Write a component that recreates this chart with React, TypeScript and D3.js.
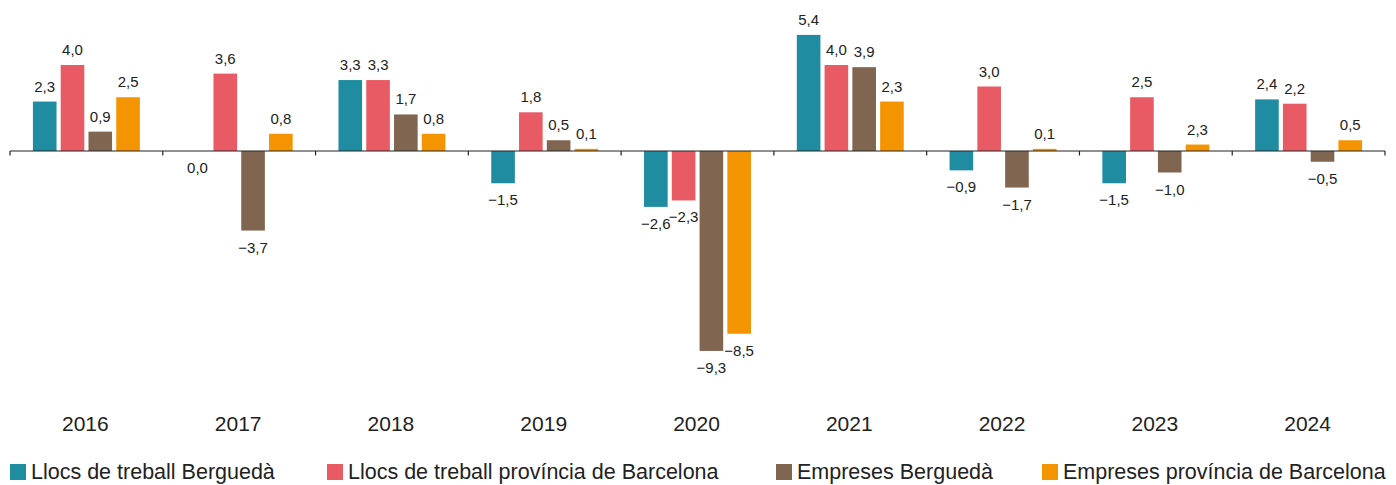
import React from "react";
import * as d3 from "d3";

const years = ["2016", "2017", "2018", "2019", "2020", "2021", "2022", "2023", "2024"];
const seriesNames = [
  "Llocs de treball Berguedà",
  "Llocs de treball província de Barcelona",
  "Empreses Berguedà",
  "Empreses província de Barcelona",
];
const llocsBergueda = [2.3, 0.0, 3.3, -1.5, -2.6, 5.4, -0.9, -1.5, 2.4];
const llocsBarcelona = [4.0, 3.6, 3.3, 1.8, -2.3, 4.0, 3.0, 2.5, 2.2];
const empresesBergueda = [0.9, -3.7, 1.7, 0.5, -9.3, 3.9, -1.7, -1.0, -0.5];
const empresesBarcelona = [2.5, 0.8, 0.8, 0.1, -8.5, 2.3, 0.1, 0.3, 0.5];
// label text printed in the reference where it differs from the bar
const labelOverrides: Record<string, string> = { "3-2023": "2,3" };
const colors = ["#1f8ca1", "#e95b64", "#806650", "#f39400"];
const legendX = [10, 327, 776, 1042];

const seriesValues = [llocsBergueda, llocsBarcelona, empresesBergueda, empresesBarcelona];

const W = 1396;
const H = 485;
const FONT = "'Liberation Sans', Arial, Helvetica, sans-serif";

function fmt(v: number) {
  const s = Math.abs(v).toFixed(1).replace(".", ",");
  return v < 0 ? "\u2212" + s : s;
}

export default function App() {
  const x0 = d3.scaleBand<string>().domain(years).range([10, 1385]).paddingInner(0).paddingOuter(0);
  const bw = x0.bandwidth();
  const x1 = d3
    .scaleBand<number>()
    .domain([0, 1, 2, 3])
    .range([bw * 0.15, bw * 0.85])
    .paddingInner(0.15)
    .paddingOuter(0);
  const y = d3.scaleLinear().domain([-10, 6]).range([366, 22]);
  const y0 = y(0);

  const boundaries = years.map((yr) => x0(yr) as number).concat([x0.range()[1]]);

  return (
    <div>
      <style>{"body{margin:0}"}</style>
      <svg width={W} height={H} style={{ display: "block", fontFamily: FONT }}>
        {years.map((yr, i) => (
          <g key={yr}>
            {seriesValues.map((vals, s) => {
              const v = vals[i];
              const bx = (x0(yr) as number) + (x1(s) as number);
              const top = y(Math.max(0, v));
              const h = Math.abs(y(v) - y0);
              const label = labelOverrides[`${s}-${yr}`] ?? fmt(v);
              const ly = v > 0 ? y(v) - 10 : y(v) + 22;
              return (
                <g key={s}>
                  <rect x={bx} y={top} width={x1.bandwidth()} height={h} fill={colors[s]} />
                  <text
                    x={bx + x1.bandwidth() / 2}
                    y={ly}
                    textAnchor="middle"
                    fontSize={15}
                    fill="#222"
                  >
                    {label}
                  </text>
                </g>
              );
            })}
            <text
              x={(x0(yr) as number) + bw / 2 - 1}
              y={431}
              textAnchor="middle"
              fontSize={21}
              fill="#222"
            >
              {yr}
            </text>
          </g>
        ))}
        <line x1={10} x2={1385} y1={y0} y2={y0} stroke="#222" strokeWidth={1.2} />
        {boundaries.map((bx, i) => (
          <line key={i} x1={bx} x2={bx} y1={y0} y2={y0 + 4.5} stroke="#222" strokeWidth={1.2} />
        ))}
        {seriesNames.map((name, s) => (
          <g key={name}>
            <rect x={legendX[s]} y={464} width={16} height={16} fill={colors[s]} />
            <text x={legendX[s] + 21} y={479} fontSize={21.5} fill="#222">
              {name}
            </text>
          </g>
        ))}
      </svg>
    </div>
  );
}
